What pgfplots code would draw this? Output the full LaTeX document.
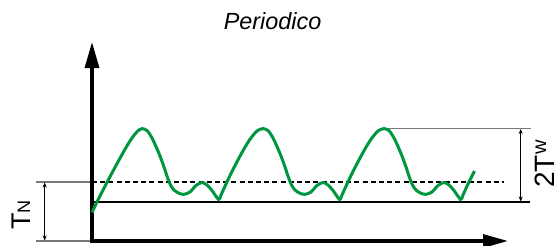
\documentclass[border=0pt]{standalone}
\usepackage{pgfplots}
\pgfplotsset{compat=1.18}
\usepackage{fontspec}
\setmainfont{Liberation Sans}
\usetikzlibrary{arrows.meta}
\definecolor{curvegreen}{RGB}{0,150,64}
\definecolor{lgray}{RGB}{120,120,120}
\begin{document}
\begin{tikzpicture}
\begin{axis}[scale only axis, width=278.5pt, height=123pt,
  xmin=0, xmax=557, ymin=0, ymax=246, y dir=reverse,
  hide axis, clip=false]
% reference lines
\addplot[lgray, line width=0.55pt] coordinates {(36,182) (92,182)};
\addplot[lgray, line width=0.55pt] coordinates {(36,241) (92,241)};
\addplot[black, line width=0.65pt, dash pattern=on 2.5pt off 1.6pt] coordinates {(92,182) (504,182)};
\addplot[black, line width=0.55pt] coordinates {(92,202) (530,202)};
\addplot[lgray, line width=0.55pt] coordinates {(383,128.5) (531,128.5)};
% dimension arrows
\addplot[black, line width=0.4pt, {Stealth[length=2.5pt,width=2pt]}-{Stealth[length=2.5pt,width=2pt]}] coordinates {(44.7,182.5) (44.7,240.5)};
\addplot[black, line width=0.4pt, {Stealth[length=2.5pt,width=2pt]}-{Stealth[length=2.5pt,width=2pt]}] coordinates {(520.7,129) (520.7,201.5)};
% axes
\addplot[black, line width=1.6pt, -{Triangle[length=13pt,width=7pt]}] coordinates {(92,242.6) (92,42)};
\addplot[black, line width=1.6pt, -{Triangle[length=12.5pt,width=6.5pt]}] coordinates {(90.4,241) (508,241)};
% curve
\addplot[curvegreen, line width=1.5pt, smooth, tension=0.5] coordinates {
(92,212.3) (100,196) (108,180.5) (116,165.5) (124,151) (130,141) (135,134) (139,130) (142,128.6)
(147,130.5) (152,138) (156,146.5) (160,156) (164,167) (167.5,177.5) (170.5,185) (174,190) (178.5,193) (183.6,194.4)
(190,192) (196,185.5) (202,182.5) (207,185) (212,190.5) (218.6,199.5)
(221,195) (226,184) (232,171.5) (239,158) (246,145.5) (252,136.5) (257,131) (260,129.3) (263,128.6)
(268,130.5) (273,138) (277,146.5) (281,156) (285,167) (288.5,177.5) (291.5,185) (295,190) (299.5,193) (304.6,194.4)
(311,192) (317,185.5) (323,182.5) (328,185) (333,190.5) (339.6,199.5)
(342,195) (347,184) (353,171.5) (360,158) (367,145.5) (373,136.5) (378,131) (381,129.3) (384,128.6)
(389,130.5) (394,138) (398,146.5) (402,156) (406,167) (409.5,177.5) (412.5,185) (416,190) (420.5,193) (425.6,194.4)
(432,192) (438,185.5) (444,182.5) (449,185) (454,190.5) (460.6,199.5)
(463,195) (468,184) (474.5,171)
};
% texts
\node[anchor=base, inner sep=0pt, font=\itshape\fontsize{11.7}{12}\selectfont] at (axis cs:272.6,29) {Periodico};
\node[rotate=90, anchor=base west, inner sep=0pt, font=\fontsize{13.5}{14}\selectfont] at (axis cs:30,230) {T{\fontsize{9}{9}\selectfont N}};
\node[rotate=90, anchor=base west, inner sep=0pt, font=\fontsize{14}{15}\selectfont] at (axis cs:554,188) {2T\raisebox{3.9pt}{\fontsize{10}{10}\selectfont w}};
\end{axis}
\pgfresetboundingbox
\path (current axis.south west) rectangle (current axis.north east);
\end{tikzpicture}
\end{document}
